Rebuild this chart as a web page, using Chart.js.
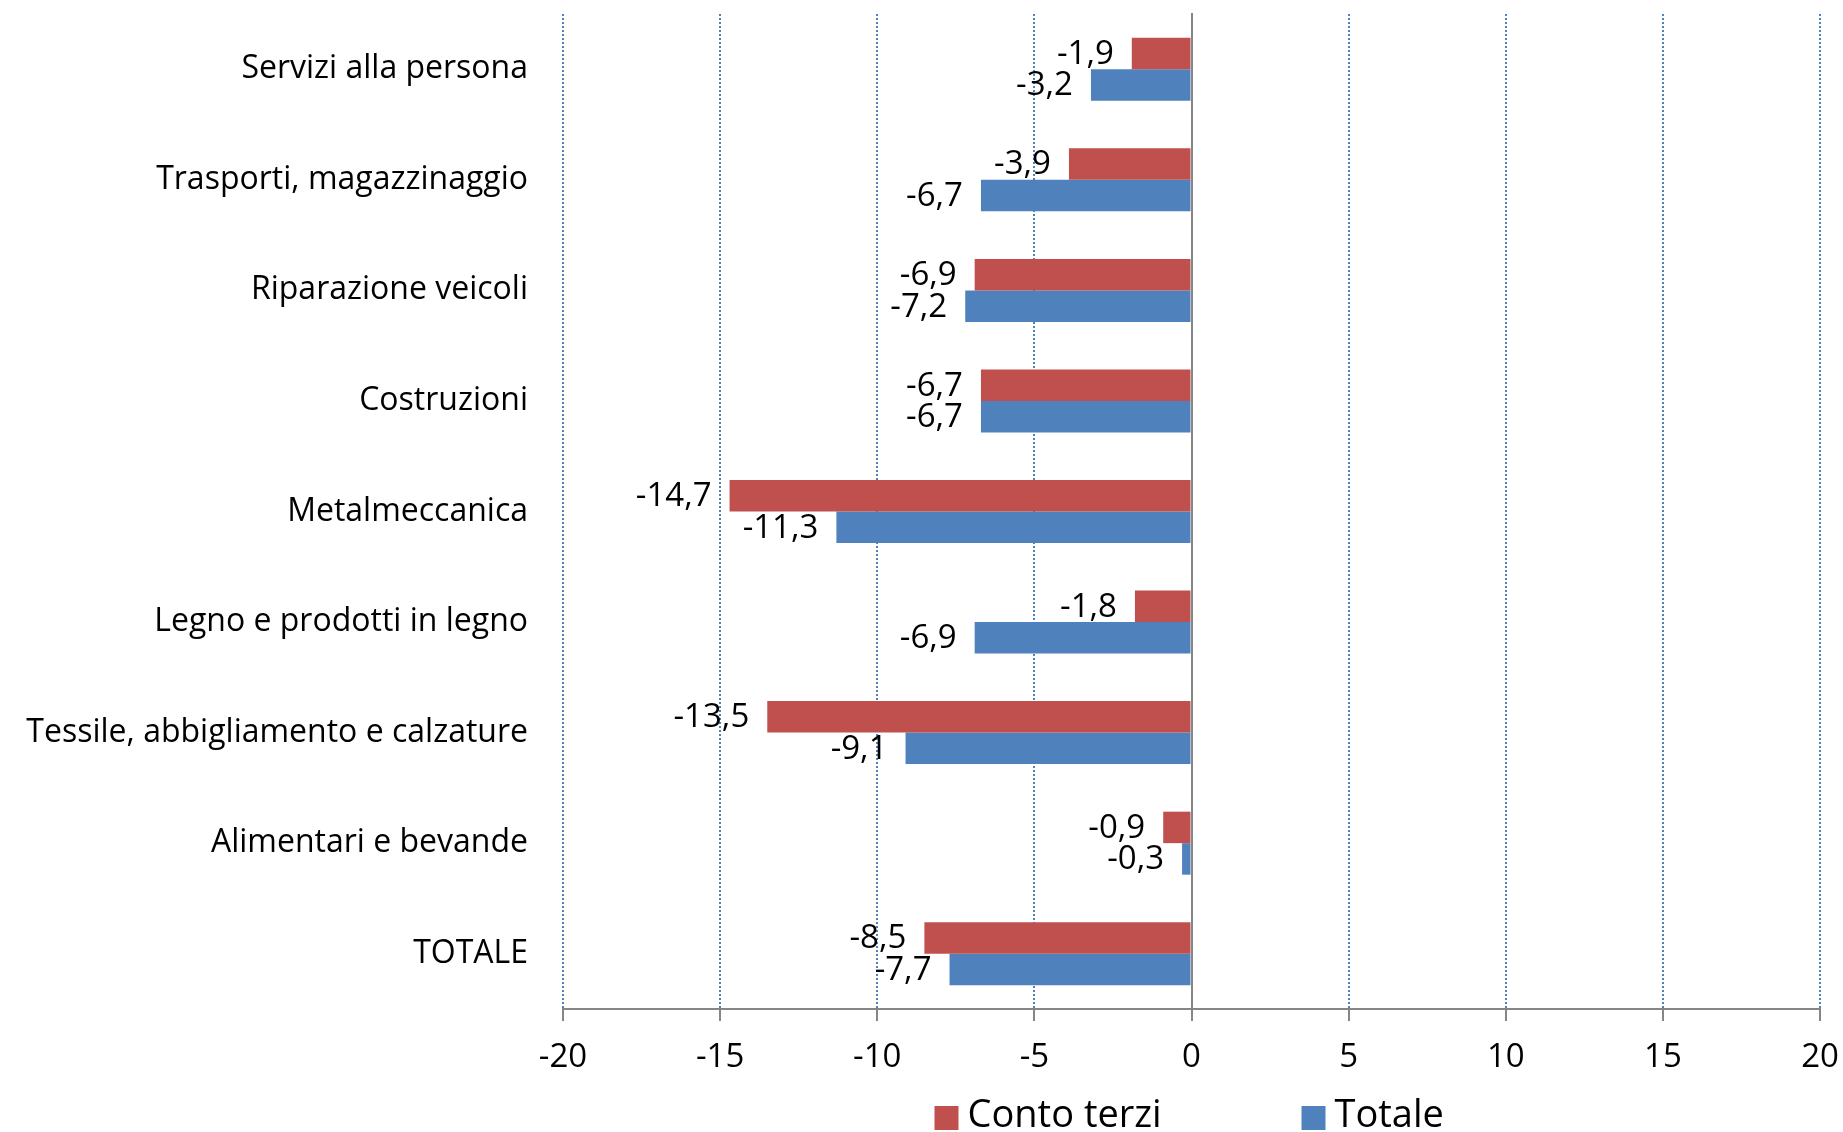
<!DOCTYPE html>
<html>
<head>
<meta charset="utf-8">
<script src="https://cdn.jsdelivr.net/npm/chart.js@4.4.0/dist/chart.umd.min.js"></script>
<style>
  html, body { margin: 0; padding: 0; background: #fff; }
</style>
</head>
<body>
<canvas id="myChart" width="1843" height="1132"></canvas>
<script>
// dati
const categorie = [
  "Servizi alla persona",
  "Trasporti, magazzinaggio",
  "Riparazione veicoli",
  "Costruzioni",
  "Metalmeccanica",
  "Legno e prodotti in legno",
  "Tessile, abbigliamento e calzature",
  "Alimentari e bevande",
  "TOTALE"
];
const contoTerzi = [-1.9, -3.9, -6.9, -6.7, -14.7, -1.8, -13.5, -0.9, -8.5];
const totale = [-3.2, -6.7, -7.2, -6.7, -11.3, -6.9, -9.1, -0.3, -7.7];
const serie = ["Conto terzi", "Totale"];
const xMin = -20, xMax = 20, xPasso = 5;

const ROSSO = "#C0504D";
const BLU = "#4F81BD";
const GRIGIO = "#868686";
const FONT = '"Open Sans", sans-serif';

function formatta(v) {
  return v.toFixed(1).replace(".", ",");
}

// niente padding extra dalle scale, decide layout.padding
function azzeraPadding(s) {
  s.paddingTop = 0;
  s.paddingBottom = 0;
  s.paddingLeft = 0;
  s.paddingRight = 0;
}

// etichette dei valori a sinistra della fine della barra
const etichette = {
  id: "etichette",
  afterDatasetsDraw(chart) {
    const ctx = chart.ctx;
    ctx.save();
    ctx.font = "33px " + FONT;
    ctx.fillStyle = "#000";
    ctx.textAlign = "right";
    ctx.textBaseline = "middle";
    chart.data.datasets.forEach((ds, i) => {
      chart.getDatasetMeta(i).data.forEach((bar, j) => {
        ctx.fillText(formatta(ds.data[j]), bar.x - 18, bar.y + 1);
      });
    });
    ctx.restore();
  }
};

// legenda disegnata a mano (spaziatura come l'originale)
const legenda = {
  id: "legenda",
  afterDraw(chart) {
    const ctx = chart.ctx;
    const a = chart.chartArea;
    const mid = (a.left + a.right) / 2;
    const offs = [-257, 110];
    ctx.save();
    ctx.font = "38px " + FONT;
    ctx.textBaseline = "middle";
    ctx.textAlign = "left";
    chart.data.datasets.forEach((ds, i) => {
      const x = mid + offs[i];
      ctx.fillStyle = ds.backgroundColor;
      ctx.fillRect(x, 1106, 24, 24);
      ctx.fillStyle = "#000";
      ctx.fillText(ds.label, x + 33, 1116);
    });
    ctx.restore();
  }
};

const cxt = document.getElementById("myChart").getContext("2d");
const myChart = new Chart(cxt, {
  type: "bar",
  data: {
    labels: categorie,
    datasets: [
      { label: serie[0], data: contoTerzi, backgroundColor: ROSSO },
      { label: serie[1], data: totale, backgroundColor: BLU }
    ]
  },
  options: {
    indexAxis: "y",
    responsive: false,
    animation: false,
    layout: { padding: { top: 14, right: 23, left: 14, bottom: 0 } },
    datasets: { bar: { categoryPercentage: 0.57, barPercentage: 1.0 } },
    plugins: { legend: { display: false }, tooltip: { enabled: false } },
    scales: {
      x: {
        min: xMin,
        max: xMax,
        ticks: {
          stepSize: xPasso,
          color: "#000",
          font: { family: FONT, size: 33 },
          padding: 17
        },
        grid: {
          color: c => (c.tick && c.tick.value === 0 ? "rgba(0,0,0,0)" : BLU),
          lineWidth: 2,
          tickColor: GRIGIO,
          tickWidth: 2,
          tickLength: 12
        },
        border: { color: GRIGIO, width: 2, dash: [2, 2] },
        afterFit: s => { s.height = 123; azzeraPadding(s); }
      },
      y: {
        position: { x: 0 },
        ticks: { display: false },
        grid: { display: false, drawTicks: false },
        border: { color: GRIGIO, width: 2 },
        afterFit: azzeraPadding
      },
      yEtichette: {
        type: "category",
        labels: categorie,
        position: "left",
        offset: true,
        ticks: {
          color: "#000",
          font: { family: FONT, size: 32 },
          padding: 35
        },
        grid: { display: false, drawTicks: false },
        border: { display: false },
        afterFit: s => { s.width = 549; azzeraPadding(s); }
      }
    }
  },
  plugins: [etichette, legenda]
});
</script>
</body>
</html>
